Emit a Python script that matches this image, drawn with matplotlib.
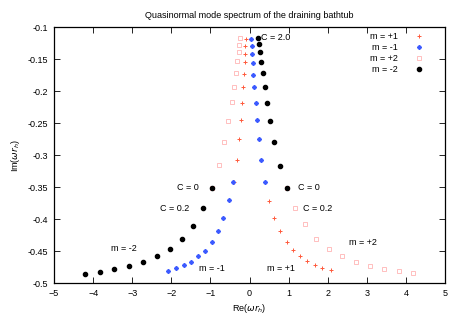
import numpy as np
import matplotlib.pyplot as plt

plt.rcParams['font.family'] = ['Liberation Sans', 'DejaVu Sans']

# m = +1 (red plus)
re_p1 = [-0.105, -0.115, -0.115, -0.123, -0.14, -0.166, -0.19, -0.225, -0.27, -0.33, -0.41,
         0.40, 0.50, 0.63, 0.78, 0.944, 1.115, 1.29, 1.48, 1.67, 1.86, 2.07]
im_p1 = [-0.118, -0.129, -0.141, -0.155, -0.173, -0.193, -0.218, -0.245, -0.275, -0.308, -0.341,
         -0.341, -0.371, -0.398, -0.419, -0.435, -0.448, -0.458, -0.465, -0.471, -0.476, -0.479]

# m = -1 (blue asterisk)
re_m1 = [0.04, 0.056, 0.064, 0.074, 0.09, 0.125, 0.16, 0.19, 0.235, 0.295, 0.39,
         -0.42, -0.52, -0.67, -0.80, -0.97, -1.14, -1.32, -1.50, -1.68, -1.88, -2.08]
im_m1 = [-0.119, -0.130, -0.142, -0.156, -0.174, -0.194, -0.218, -0.245, -0.275, -0.308, -0.341,
         -0.341, -0.370, -0.398, -0.419, -0.436, -0.449, -0.458, -0.466, -0.471, -0.476, -0.480]

# m = +2 (pink open squares)
re_p2 = [-0.233, -0.27, -0.284, -0.32, -0.353, -0.404, -0.456, -0.55, -0.65, -0.78, -0.95,
         0.96, 1.157, 1.42, 1.70, 2.02, 2.36, 2.71, 3.08, 3.44, 3.82, 4.19]
im_p2 = [-0.116, -0.128, -0.139, -0.153, -0.172, -0.193, -0.217, -0.246, -0.280, -0.315, -0.351,
         -0.351, -0.383, -0.408, -0.431, -0.447, -0.458, -0.467, -0.473, -0.478, -0.481, -0.484]

# m = -2 (black dots)
re_m2 = [0.21, 0.228, 0.253, 0.287, 0.33, 0.381, 0.448, 0.517, 0.619, 0.765, 0.944,
         -0.967, -1.18, -1.436, -1.728, -2.04, -2.38, -2.73, -3.09, -3.47, -3.83, -4.22]
im_m2 = [-0.116, -0.126, -0.139, -0.154, -0.171, -0.193, -0.218, -0.247, -0.280, -0.316, -0.351,
         -0.351, -0.383, -0.410, -0.431, -0.446, -0.458, -0.467, -0.473, -0.478, -0.482, -0.485]

labels = [("C = 2.0", 0.28, -0.1156, 'left'),
          ("C = 0", -1.59, -0.351, 'center'),
          ("C = 0.2", -1.92, -0.383, 'center'),
          ("m = -2", -3.22, -0.446, 'center'),
          ("m = -1", -0.97, -0.477, 'center'),
          ("C = 0", 1.51, -0.351, 'center'),
          ("C = 0.2", 1.73, -0.383, 'center'),
          ("m = +2", 2.90, -0.436, 'center'),
          ("m = +1", 0.80, -0.477, 'center')]

fs = 6.5
fig = plt.figure(figsize=(4.58, 3.21), dpi=100)
ax = fig.add_axes([0.118, 0.1174, 0.854, 0.7976])

ax.plot(re_p1, im_p1, ls='none', marker='+', ms=3.5, mew=0.7, color='#ff5a3c', label='m = +1')
ax.plot(re_m1, im_m1, ls='none', marker=(8, 2, 0), ms=3.2, mew=0.8, color='#3c5aff', label='m = -1')
ax.plot(re_p2, im_p2, ls='none', marker='s', ms=3.2, mew=0.6, mfc='none', mec='#ffb4b4', label='m = +2')
ax.plot(re_m2, im_m2, ls='none', marker='o', ms=3.0, color='black', label='m = -2')

for txt, x, y, ha in labels:
    ax.text(x, y, txt, fontsize=fs, ha=ha, va='center')

ax.set_xlim(-5, 5)
ax.set_ylim(-0.5, -0.1)
ax.set_xticks(np.arange(-5, 6, 1))
ax.set_yticks(np.arange(-0.5, -0.099, 0.05))
ax.set_yticklabels(['-0.5', '-0.45', '-0.4', '-0.35', '-0.3', '-0.25', '-0.2', '-0.15', '-0.1'])
ax.tick_params(direction='in', top=True, right=True, length=4, width=0.6, labelsize=fs, pad=4)
for s in ax.spines.values():
    s.set_linewidth(0.9)

ax.set_xlabel(r'Re($\omega r_h$)', fontsize=fs, labelpad=3)
ax.set_ylabel(r'Im($\omega r_h$)', fontsize=fs, labelpad=4)
ax.set_title('Quasinormal mode spectrum of the draining bathtub', fontsize=fs, pad=7)

ax.legend(loc='upper right', bbox_to_anchor=(0.965, 1.012), frameon=False, fontsize=fs,
          markerfirst=False, handlelength=1.0, handletextpad=1.8, labelspacing=0.2)

plt.savefig('out.png', dpi=100)
